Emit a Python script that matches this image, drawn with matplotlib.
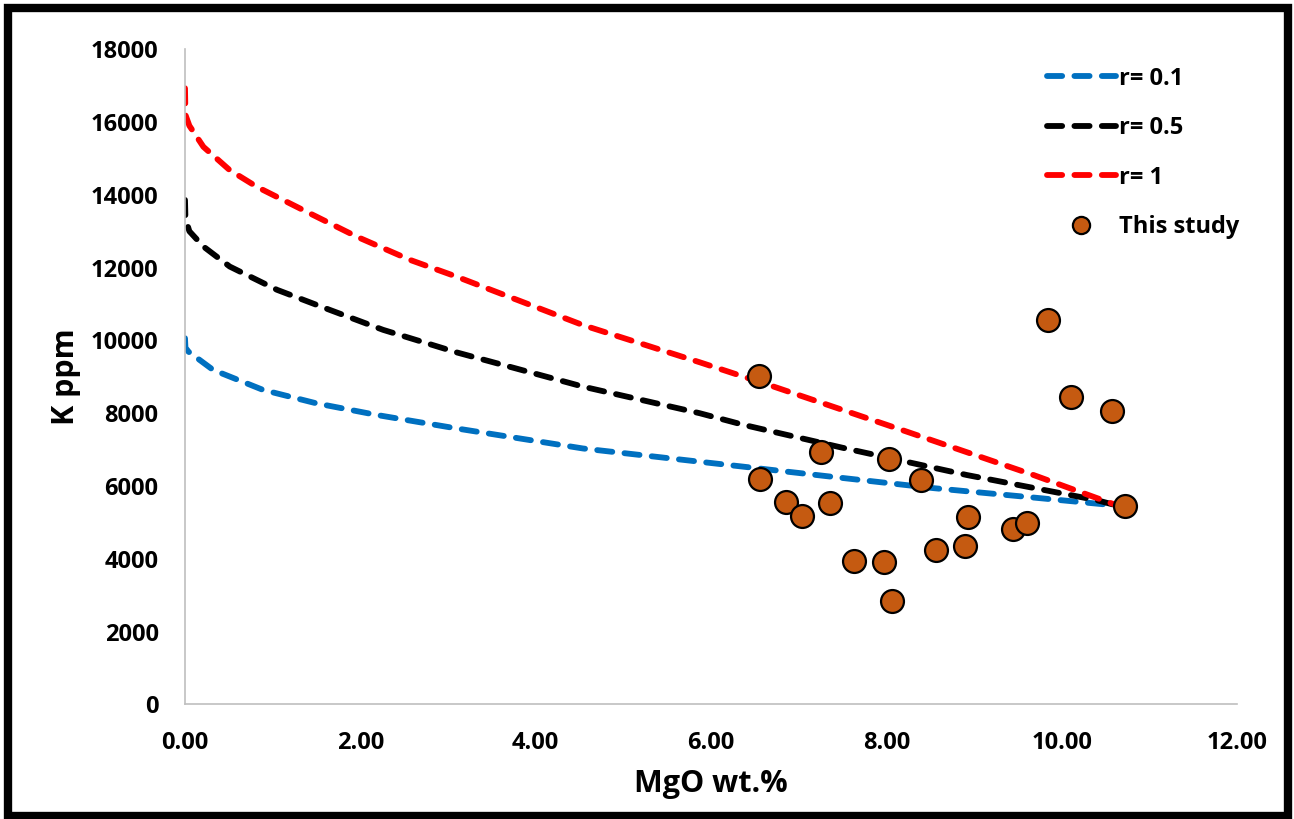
import matplotlib
matplotlib.use("Agg")
import matplotlib.pyplot as plt
from matplotlib.patches import Rectangle
from matplotlib.ticker import FormatStrFormatter

plt.rcParams['font.family'] = ['Open Sans', 'DejaVu Sans']
plt.rcParams['font.weight'] = 'bold'

# Model curves
r01_x = [0, 0.005, 0.04, 0.32, 0.89, 1.50, 2.19, 3.10, 4.54, 5.93, 6.37, 7.50, 8.54, 9.60, 10.55, 10.65]
r01_y = [10060, 9800, 9690, 9190, 8640, 8270, 7950, 7580, 7030, 6650, 6530, 6220, 5940, 5700, 5480, 5450]

r05_x = [0, 0.005, 0.05, 0.21, 0.51, 1.05, 1.65, 2.26, 3.10, 4.54, 5.87, 6.37, 7.50, 8.92, 10.40, 10.65]
r05_y = [13860, 13350, 13000, 12580, 12030, 11390, 10840, 10290, 9670, 8730, 8000, 7680, 7050, 6300, 5610, 5450]

r1_x = [0, 0.005, 0.05, 0.21, 0.51, 0.82, 1.35, 1.96, 2.57, 3.10, 4.54, 5.87, 6.63, 8.20, 9.68, 10.65]
r1_y = [16930, 16200, 15900, 15320, 14680, 14220, 13580, 12850, 12210, 11750, 10420, 9400, 8800, 7520, 6300, 5450]

# This study samples
mgo = [9.84, 6.55, 10.11, 10.57, 7.26, 8.03, 6.56, 8.40, 10.72, 6.85, 7.04, 7.36,
       8.93, 9.44, 9.61, 8.57, 8.90, 7.63, 7.97, 8.07]
k_ppm = [10560, 9020, 8450, 8060, 6940, 6740, 6180, 6160, 5460, 5570, 5170, 5520,
         5160, 4830, 4990, 4240, 4360, 3940, 3900, 2840]

x_ticks = [0, 2, 4, 6, 8, 10, 12]
y_ticks = list(range(0, 18001, 2000))

W, H = 1294, 819
fig = plt.figure(figsize=(W / 100, H / 100), dpi=100)
ax = fig.add_axes([185 / W, 1 - 704.3 / H, (1237 - 185) / W, (704.3 - 49.3) / H])

lw = 4.2
dash = (2.6, 2.1)
kw = dict(lw=lw, dashes=dash, dash_capstyle='round', solid_capstyle='round')
ax.plot(r01_x, r01_y, color='#0070C0', label='r= 0.1', **kw)
ax.plot(r05_x, r05_y, color='black', label='r= 0.5', **kw)
ax.plot(r1_x, r1_y, color='#FF0000', label='r= 1', **kw)
ax.plot(mgo, k_ppm, ls='none', marker='o', ms=16.5, mfc='#C55A11', mec='black',
        mew=1.6, label='This study', zorder=5)

ax.set_xlim(0, 12)
ax.set_ylim(0, 18000)
ax.set_xticks(x_ticks)
ax.set_yticks(y_ticks)
ax.xaxis.set_major_formatter(FormatStrFormatter('%.2f'))
ax.tick_params(length=0, labelsize=17, pad=19)
for t in ax.get_xticklabels() + ax.get_yticklabels():
    t.set_fontweight('bold')

for s in ['top', 'right']:
    ax.spines[s].set_visible(False)
for s in ['left', 'bottom']:
    ax.spines[s].set_color('#BFBFBF')
    ax.spines[s].set_linewidth(1.2)

ax.set_xlabel('MgO wt.%', fontsize=22, fontweight='bold', labelpad=10)
ax.set_ylabel('K ppm', fontsize=22, fontweight='bold', labelpad=7)

leg = ax.legend(loc='upper right', bbox_to_anchor=(1.022, 1.006), frameon=False,
                prop={'size': 17, 'weight': 'bold'}, handlelength=2.95,
                handletextpad=0.1, labelspacing=1.08, markerscale=0.75)

fig.patches.append(Rectangle((8 / W, 3 / H), (1288 - 8) / W, (811 - 3) / H,
                             transform=fig.transFigure, fill=False,
                             edgecolor='black', lw=6, zorder=10))

fig.savefig('out.png', dpi=100)
